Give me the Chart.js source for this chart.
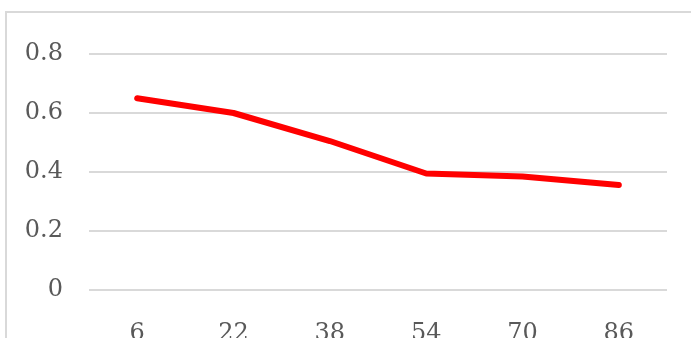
<!DOCTYPE html>
<html>
<head>
<meta charset="utf-8">
<script src="https://cdn.jsdelivr.net/npm/chart.js@4/dist/chart.umd.min.js"></script>
<style>
  body { margin: 0; background: #fff; overflow: hidden; }
  #frame { position: absolute; left: 5px; top: 11px; width: 720px; height: 400px; border: 2px solid #d9d9d9; }
  #wrap { position: absolute; left: 0; top: 0; width: 691px; height: 338px; }
</style>
</head>
<body>
<div id="frame"></div>
<div id="wrap"><canvas id="myChart"></canvas></div>
<script>
var kategorie = ['6', '22', '38', '54', '70', '86'];
var wartosci = [0.65, 0.6, 0.505, 0.395, 0.385, 0.356];
var yTicks = [0, 0.2, 0.4, 0.6, 0.8];

var czcionka = {family: "'DejaVu Serif', serif", size: 24};

var ctx = document.getElementById('myChart');

var myChart = new Chart(ctx, {
    type: 'line',
    data: {
        labels: kategorie,
        datasets: [{
            data: wartosci,
            borderColor: '#ff0000',
            borderWidth: 6,
            borderCapStyle: 'round',
            borderJoinStyle: 'round',
            tension: 0,
            fill: false
        }]
    },
    options: {
        responsive: true,
        maintainAspectRatio: false,
        animation: false,
        layout: {
            padding: {left: 0, right: 24, top: 54, bottom: 0}
        },
        scales: {
            x: {
                offset: true,
                grid: {display: false, drawTicks: false},
                border: {display: false},
                ticks: {color: '#595959', font: czcionka, padding: 29, maxRotation: 0},
                afterFit: function(scale) { scale.height = 48; }
            },
            y: {
                min: 0,
                max: 0.8,
                afterBuildTicks: function(scale) {
                    scale.ticks = yTicks.map(function(v) { return {value: v}; });
                },
                grid: {color: '#d9d9d9', lineWidth: 2, drawTicks: false},
                border: {display: false},
                ticks: {color: '#595959', font: czcionka, padding: 26},
                afterFit: function(scale) { scale.width = 89; }
            }
        },
        plugins: {
            legend: {display: false},
            tooltip: {enabled: false}
        },
        elements: {
            point: {radius: 0}
        }
    }
});
</script>
</body>
</html>
